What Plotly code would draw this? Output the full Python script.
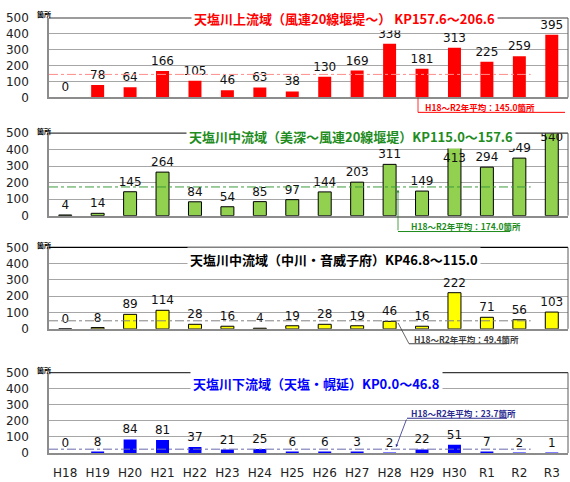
import plotly.graph_objects as go

categories = ["H18", "H19", "H20", "H21", "H22", "H23", "H24", "H25",
              "H26", "H27", "H28", "H29", "H30", "R1", "R2", "R3"]
upper = [0, 78, 64, 166, 105, 46, 63, 38, 130, 169, 338, 181, 313, 225, 259, 395]
middle_upper = [4, 14, 145, 264, 84, 54, 85, 97, 144, 203, 311, 149, 413, 294, 349, 540]
middle = [0, 8, 89, 114, 28, 16, 4, 19, 28, 19, 46, 16, 222, 71, 56, 103]
lower = [0, 8, 84, 81, 37, 21, 25, 6, 6, 3, 2, 22, 51, 7, 2, 1]
averages = [145.0, 174.0, 49.4, 23.7]
titles = ["天塩川上流域（風連20線堰堤～） KP157.6～206.6",
          "天塩川中流域（美深～風連20線堰堤）KP115.0～157.6",
          "天塩川中流域（中川・音威子府）KP46.8～115.0",
          "天塩川下流域（天塩・幌延）KP0.0～46.8"]
avg_labels = ["H18～R2年平均：145.0箇所", "H18～R2年平均：174.0箇所",
              "H18～R2年平均：49.4箇所", "H18～R2年平均：23.7箇所"]
y_ticks = [0, 100, 200, 300, 400, 500]
unit = "箇所"

series = [upper, middle_upper, middle, lower]
bar_colors = ["#FF0000", "#92D050", "#FFFF00", "#0000FF"]
bar_lines = [0, 1, 1, 0]
title_colors = ["#FF0000", "#1E8C1E", "#000000", "#0000FF"]
avg_colors = ["#FF8C8C", "#3C9A3C", "#808080", "#6A6AB0"]
callout_colors = ["#FF0000", "#1E8C1E", "#404040", "#2A2A90"]

W, H = 570, 482
ML, MR, MT, MB = 49, 2, 18, 26
PW = W - ML - MR
PH = H - MT - MB

def px(x):
    return (x - ML) / PW

def py(y):
    return (H - MB - y) / PH

# panel pixel extents (top, bottom)
panels_px = [(18, 98), (134, 217), (249, 331), (375, 456)]
title_px = [(344, 18), (351, 137), (334, 261), (316, 386)]
unit_py = [14, 132, 247, 372]

NUM_FONT = "DejaVu Sans"
JP_FONT = "Noto Sans CJK JP"

fig = go.Figure()
layout = dict(
    width=W, height=H,
    margin=dict(l=ML, r=MR, t=MT, b=MB),
    paper_bgcolor="white", plot_bgcolor="white",
    showlegend=False, bargap=0.6,
    font=dict(family=NUM_FONT, color="#222222", size=12),
)
shapes = []
annotations = []

for i, vals in enumerate(series):
    n = "" if i == 0 else str(i + 1)
    xa, ya = "x" + n, "y" + n
    top, bot = panels_px[i]
    tpos = ["inside" if (i == 1 and v >= 400) else "outside" for v in vals]
    fig.add_trace(go.Bar(
        x=categories, y=vals, xaxis=xa, yaxis=ya,
        marker=dict(color=bar_colors[i],
                    line=dict(color="#000000", width=bar_lines[i])),
        text=[str(v) for v in vals], textposition=tpos, textangle=0,
        insidetextanchor="end", constraintext="none",
        textfont=dict(family=NUM_FONT, size=12, color="#111111"),
        hoverinfo="skip",
    ))
    layout["xaxis" + n] = dict(
        type="category", categoryorder="array", categoryarray=categories,
        range=[-0.5, len(categories) - 0.5], anchor=ya, domain=[0, 1],
        showline=True, linecolor="#8C8C8C", linewidth=1.5,
        showgrid=False, ticks="",
        showticklabels=(i == 3), ticklabelstandoff=8,
        tickfont=dict(family=NUM_FONT, size=12, color="#222222"),
    )
    layout["yaxis" + n] = dict(
        range=[0, 500], tickvals=y_ticks, anchor=xa,
        domain=[py(bot), py(top)],
        showline=True, linecolor="#8C8C8C", linewidth=1.5,
        showgrid=True, gridcolor="#A6A6A6", gridwidth=1,
        zeroline=False, ticks="", ticklabelstandoff=16,
        tickfont=dict(family=NUM_FONT, size=12, color="#222222"),
    )
    # average line
    shapes.append(dict(type="line", xref=xa, yref=ya,
                       x0=-0.5, x1=14.35, y0=averages[i], y1=averages[i],
                       line=dict(color=avg_colors[i], width=1, dash="dashdot")))
    # top border and right border
    shapes.append(dict(type="line", xref=xa + " domain", yref=ya + " domain",
                       x0=0, x1=1, y0=1, y1=1,
                       line=dict(color="#3A3A3A" if i != 2 else "#000000", width=1.2)))
    shapes.append(dict(type="line", xref=xa + " domain", yref=ya + " domain",
                       x0=1, x1=1, y0=0, y1=1,
                       line=dict(color="#5A5A5A", width=1)))
    # title
    annotations.append(dict(
        text="<b>" + titles[i] + "</b>", xref="paper", yref="paper",
        x=px(title_px[i][0]), y=py(title_px[i][1]),
        xanchor="center", yanchor="middle", showarrow=False,
        bgcolor="white", borderpad=2,
        font=dict(family=JP_FONT, size=13, color=title_colors[i]),
    ))
    # unit label
    annotations.append(dict(
        text="<b>" + unit + "</b>", xref="paper", yref="paper",
        x=px(44), y=py(unit_py[i]), xanchor="center", yanchor="middle",
        showarrow=False, font=dict(family=JP_FONT, size=7, color="#000000"),
    ))

# callouts (pixel layout positions)
callouts = [
    dict(text_xy=(423, 108), under=((418, 113), (565, 113)),
         lead=((418, 113), (418, 98)), arrow=False),
    dict(text_xy=(409, 227), under=((398, 233), (510, 233)),
         lead=((398, 233), (398, 191)), arrow=True),
    dict(text_xy=(412, 341), under=((409, 346), (507, 346)),
         lead=((409, 346), (398, 325)), arrow=False),
    dict(text_xy=(409, 416), under=((407, 421), (507, 421)),
         lead=((407, 421), (396, 450)), arrow=True),
]
for i, c in enumerate(callouts):
    col = callout_colors[i]
    (ux0, uy0), (ux1, uy1) = c["under"]
    shapes.append(dict(type="line", xref="paper", yref="paper",
                       x0=px(ux0), y0=py(uy0), x1=px(ux1), y1=py(uy1),
                       line=dict(color=col, width=1)))
    (lx0, ly0), (lx1, ly1) = c["lead"]
    if c["arrow"]:
        annotations.append(dict(
            text="", xref="paper", yref="paper", axref="pixel", ayref="pixel",
            x=px(lx1), y=py(ly1), ax=lx0 - lx1, ay=ly0 - ly1,
            showarrow=True, arrowhead=2, arrowsize=0.7, arrowwidth=0.8,
            arrowcolor=col, standoff=0, startstandoff=0,
        ))
    else:
        shapes.append(dict(type="line", xref="paper", yref="paper",
                           x0=px(lx0), y0=py(ly0), x1=px(lx1), y1=py(ly1),
                           line=dict(color=col, width=0.8)))
    annotations.append(dict(
        text="<b>" + avg_labels[i] + "</b>", xref="paper", yref="paper",
        x=px(c["text_xy"][0]), y=py(c["text_xy"][1]),
        xanchor="left", yanchor="middle", showarrow=False,
        font=dict(family=JP_FONT, size=8.5, color=col),
    ))

layout["shapes"] = shapes
layout["annotations"] = annotations
fig.update_layout(**layout)
fig.write_html("out.html")
